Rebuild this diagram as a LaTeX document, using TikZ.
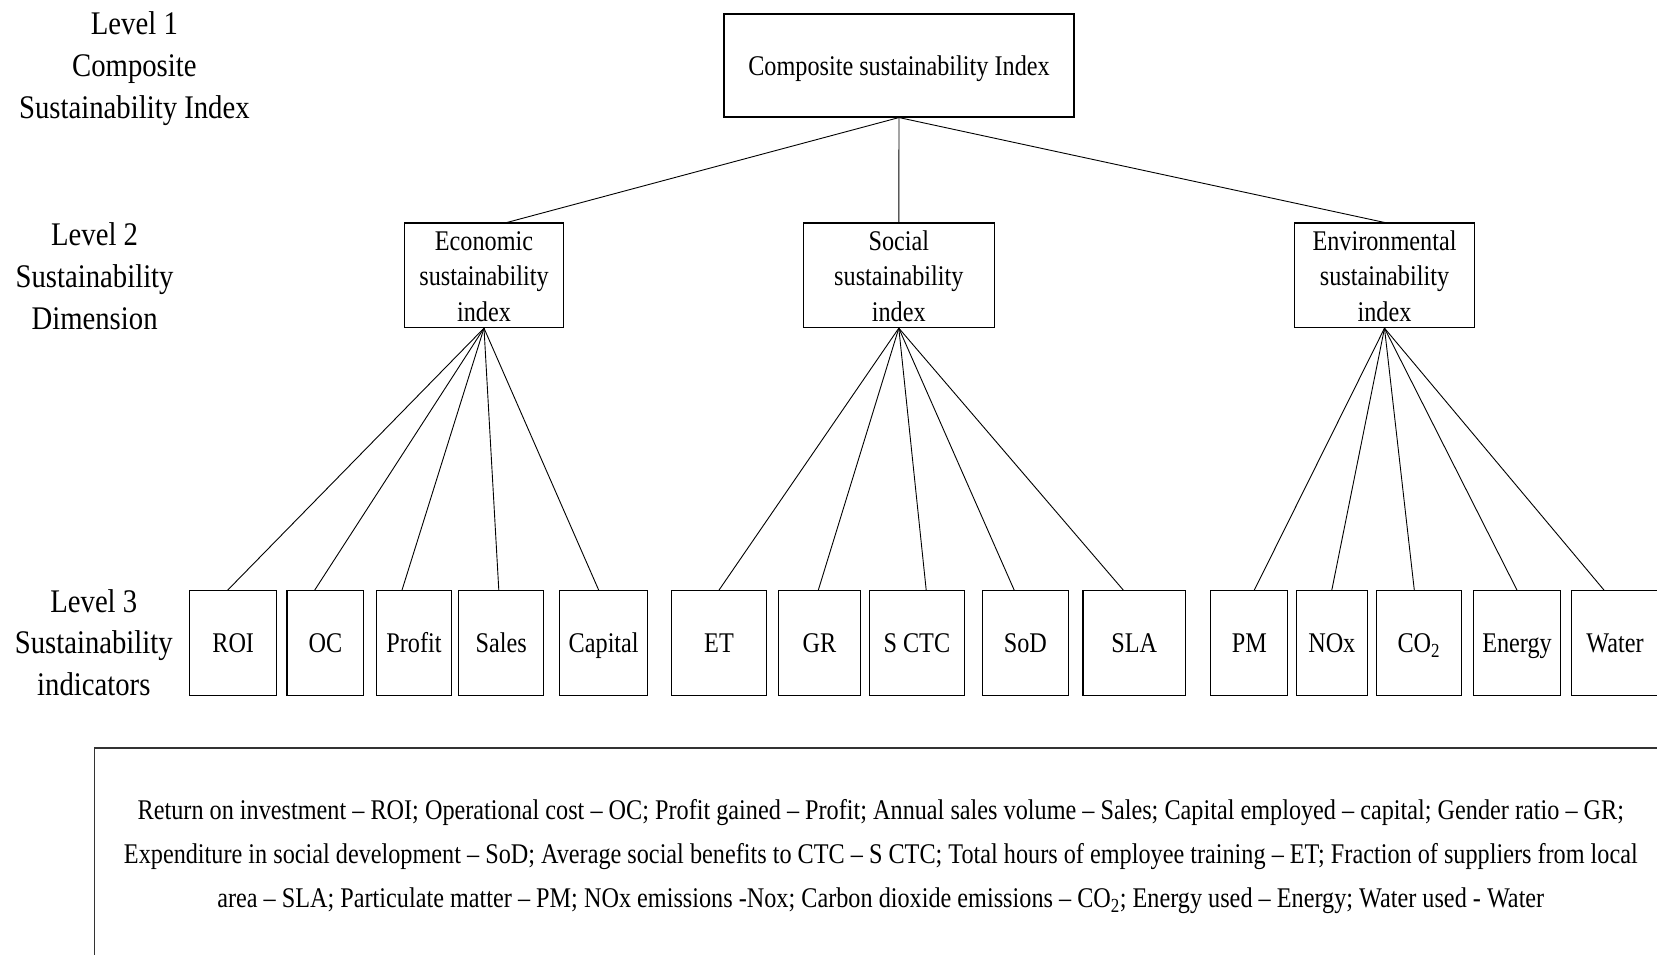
\documentclass[tikz,border=0pt]{standalone}
\usepackage{fontspec}
\newfontfamily\lblfont[FakeStretch=0.87,Ligatures=TeX]{Liberation Serif}
\newfontfamily\boxfont[FakeStretch=0.85,Ligatures=TeX]{Liberation Serif}
\newcommand\toprule{\rule{0pt}{21.5pt}}
\begin{document}
\begin{tikzpicture}[x=1pt,y=-1pt,
  box/.style={draw=black, line width=1.1pt, inner sep=0pt, align=center,
    font=\boxfont\fontsize{28.5}{35.4}\selectfont},
  dimbox/.style={box, minimum height=104.6pt, minimum width=#1},
  leaf/.style={box, minimum height=104.7pt, minimum width=#1,
    text height=19.5pt, text depth=0pt},
  lvl/.style={align=center, inner sep=0pt,
    font=\lblfont\fontsize{33}{41.7}\selectfont},
  link/.style={line width=0.9pt}]
\clip (0,0) rectangle (1657,954);

% level captions
\node[lvl] (l1) at (134.4,68.5) {Level 1\\Composite\\Sustainability Index};
\node[lvl] (l2) at (94.6,276.3) {Level 2\\Sustainability\\Dimension};
\node[lvl] (l3) at (93.8,642.5) {Level 3\\Sustainability\\indicators};

% level 1
\node[box, minimum width=350pt, minimum height=103pt,
  text height=20pt, text depth=1pt] (csi) at (899,65.5)
  {Composite sustainability Index};

% level 2
\node[dimbox=158.5pt] (eco) at (484,275.3) {\toprule Economic\\sustainability\\index};
\node[dimbox=191.2pt] (soc) at (898.8,275.3) {\toprule Social\\sustainability\\index};
\node[dimbox=180pt] (env) at (1384.5,275.3) {\toprule Environmental\\sustainability\\index};

% level 3
\node[leaf=87.3pt] (roi) at (233.2,643) {ROI};
\node[leaf=76.8pt] (oc) at (325.4,643) {OC};
\node[leaf=75.5pt] (profit) at (414,643) {Profit};
\node[leaf=85.3pt] (sales) at (501.2,643) {Sales};
\node[leaf=87.7pt] (capital) at (603.7,643) {Capital};
\node[leaf=95.7pt] (et) at (719,643) {ET};
\node[leaf=82.3pt] (gr) at (819.5,643) {GR};
\node[leaf=95.7pt] (sctc) at (916.9,643) {S CTC};
\node[leaf=85.4pt] (sod) at (1025.4,643) {SoD};
\node[leaf=102.7pt] (sla) at (1134.3,643) {SLA};
\node[leaf=77.1pt] (pm) at (1249.3,643) {PM};
\node[leaf=71.3pt] (nox) at (1331.8,643) {NOx};
\node[leaf=84.8pt] (co2) at (1418.8,643) {CO\textsubscript{2}};
\node[leaf=87.3pt] (energy) at (1517,643) {Energy};
\node[leaf=87pt] (water) at (1615,643) {Water};

% connectors: level 1 to level 2
\draw[link] (csi.south) -- ([xshift=23pt]eco.north);
\draw[link] (csi.south) -- (soc.north);
\draw[link] (csi.south) -- (env.north);

% connectors: level 2 to level 3
\draw[link] (eco.south) -- ([xshift=-5.5pt]roi.north);
\draw[link] (eco.south) -- ([xshift=-10.7pt]oc.north);
\draw[link] (eco.south) -- ([xshift=-12pt]profit.north);
\draw[link] (eco.south) -- ([xshift=-2.4pt]sales.north);
\draw[link] (eco.south) -- ([xshift=-5pt]capital.north);
\draw[link] (soc.south) -- (et.north);
\draw[link] (soc.south) -- ([xshift=-1.2pt]gr.north);
\draw[link] (soc.south) -- ([xshift=9.3pt]sctc.north);
\draw[link] (soc.south) -- ([xshift=-11.2pt]sod.north);
\draw[link] (soc.south) -- ([xshift=-11pt]sla.north);
\draw[link] (env.south) -- ([xshift=5pt]pm.north);
\draw[link] (env.south) -- (nox.north);
\draw[link] (env.south) -- ([xshift=-4.5pt]co2.north);
\draw[link] (env.south) -- (energy.north);
\draw[link] (env.south) -- ([xshift=-11pt]water.north);

% abbreviation panel
\draw[line width=1.3pt, draw=black!80] (94.5,1000) -- (94.5,748) -- (1700,748);
\node[align=center, inner sep=0pt,
  font=\boxfont\fontsize{28.5}{44}\selectfont] (legend) at (880.8,857)
  {Return on investment – ROI; Operational cost – OC; Profit gained – Profit; Annual sales volume – Sales; Capital employed – capital; Gender ratio – GR;\\
   Expenditure in social development – SoD; Average social benefits to CTC – S CTC; Total hours of employee training – ET; Fraction of suppliers from local\\
   area – SLA; Particulate matter – PM; NOx emissions -Nox; Carbon dioxide emissions – CO\textsubscript{2}; Energy used – Energy; Water used - Water};
\end{tikzpicture}
\end{document}
